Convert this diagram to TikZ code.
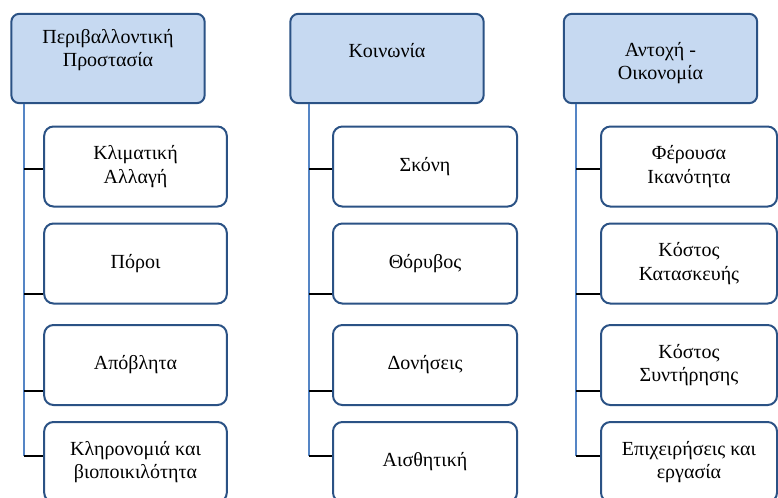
\documentclass[tikz,border=0pt]{standalone}
\usepackage{fontspec}
\setmainfont{Liberation Serif}
\usepackage{tikz}
\usetikzlibrary{calc,positioning}
\usepackage{xcolor}
\definecolor{borde}{HTML}{2B5285}
\definecolor{celeste}{HTML}{C6D9F1}
\definecolor{espina}{HTML}{5585C5}

\tikzset{
  cabeza/.style={draw=borde,fill=celeste,line width=1.5pt,rounded corners=6pt,
                 minimum width=145pt,minimum height=67pt,inner sep=0pt},
  hoja/.style={draw=borde,fill=white,line width=1.5pt,rounded corners=7pt,
               minimum height=60pt,inner sep=0pt},
  texto/.style={align=center,font=\fontsize{15}{17.5}\selectfont},
  espinazo/.style={espina,line width=1.5pt},
  rama/.style={black,line width=1.5pt}
}

\begin{document}
\begin{tikzpicture}[x=0.75pt,y=-0.75pt,line cap=butt]
  \clip (0,0) rectangle (778,497);
  \fill[white] (0,0) rectangle (778,497);
  % --- columna 1: medio ambiente ---
  \begin{scope}
    \node[cabeza] (h1) at (108,58.5) {};
    \node[texto] (h1t) at (108,50) {Περιβαλλοντική\\Προστασία};
    \node[hoja,minimum width=137pt,texto] (c11) at (135.5,166.5) {Κλιματική\\Αλλαγή};
    \node[hoja,minimum width=137pt,texto] (c12) at (135.5,263.5) {Πόροι};
    \node[hoja,minimum width=137pt,texto] (c13) at (135.5,365) {Απόβλητα};
    \node[hoja,minimum width=137pt,texto] (c14) at (135.5,462) {Κληρονομιά και\\βιοποικιλότητα};
    \coordinate (t11) at (24,169);
    \coordinate (t12) at (24,294);
    \coordinate (t13) at (24,391);
    \coordinate (t14) at (24,456);
    \draw[espinazo] (h1.south -| t11) -- (t14);
    \draw[rama] (t11) -- (t11 -| c11.west);
    \draw[rama] (t12) -- (t12 -| c12.west);
    \draw[rama] (t13) -- (t13 -| c13.west);
    \draw[rama] (t14) -- (t14 -| c14.west);
  \end{scope}
  % --- columna 2: sociedad ---
  \begin{scope}
    \node[cabeza] (h2) at (387,58.5) {};
    \node[texto] (h2t) at (387,51) {Κοινωνία};
    \node[hoja,minimum width=138pt,texto] (c21) at (425,166.5) {Σκόνη};
    \node[hoja,minimum width=138pt,texto] (c22) at (425,263.5) {Θόρυβος};
    \node[hoja,minimum width=138pt,texto] (c23) at (425,365) {Δονήσεις};
    \node[hoja,minimum width=138pt,texto] (c24) at (425,462) {Αισθητική};
    \coordinate (t21) at (309,169);
    \coordinate (t22) at (309,294);
    \coordinate (t23) at (309,391);
    \coordinate (t24) at (309,456);
    \draw[espinazo] (h2.south -| t21) -- (t24);
    \draw[rama] (t21) -- (t21 -| c21.west);
    \draw[rama] (t22) -- (t22 -| c22.west);
    \draw[rama] (t23) -- (t23 -| c23.west);
    \draw[rama] (t24) -- (t24 -| c24.west);
  \end{scope}
  % --- columna 3: resistencia y economia ---
  \begin{scope}
    \node[cabeza] (h3) at (660.5,58.5) {};
    \node[texto] (h3t) at (660.5,63) {Αντοχή -\\Οικονομία};
    \node[hoja,minimum width=132pt,texto] (c31) at (689,166.5) {Φέρουσα\\Ικανότητα};
    \node[hoja,minimum width=132pt,texto] (c32) at (689,263.5) {Κόστος\\Κατασκευής};
    \node[hoja,minimum width=132pt,texto] (c33) at (689,365) {Κόστος\\Συντήρησης};
    \node[hoja,minimum width=132pt,texto] (c34) at (689,462) {Επιχειρήσεις και\\εργασία};
    \coordinate (t31) at (576,169);
    \coordinate (t32) at (576,294);
    \coordinate (t33) at (576,391);
    \coordinate (t34) at (576,456);
    \draw[espinazo] (h3.south -| t31) -- (t34);
    \draw[rama] (t31) -- (t31 -| c31.west);
    \draw[rama] (t32) -- (t32 -| c32.west);
    \draw[rama] (t33) -- (t33 -| c33.west);
    \draw[rama] (t34) -- (t34 -| c34.west);
  \end{scope}
\end{tikzpicture}
\end{document}
